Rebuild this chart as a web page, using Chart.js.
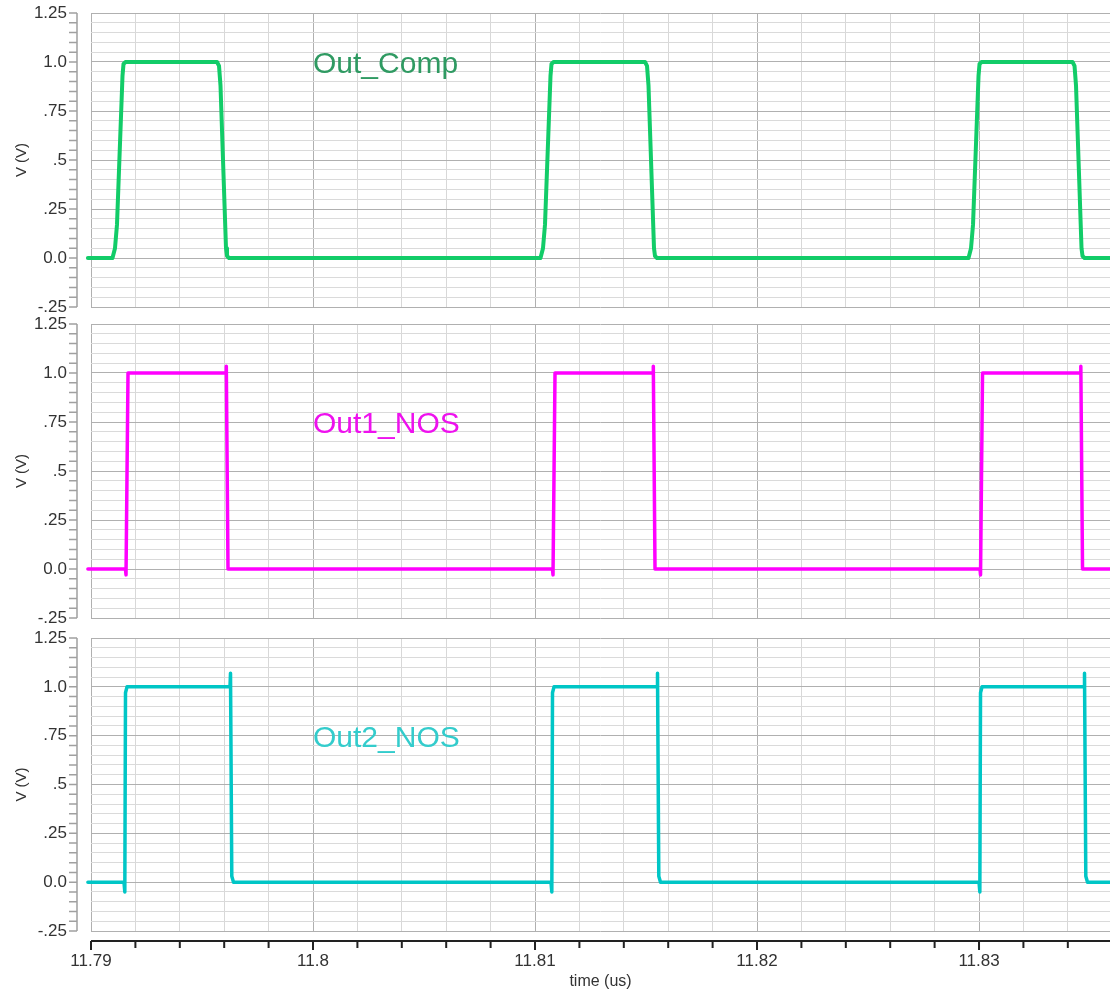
<!DOCTYPE html>
<html>
<head>
<meta charset="utf-8">
<script src="https://cdn.jsdelivr.net/npm/chart.js@4.4.0/dist/chart.umd.min.js"></script>
<style>
  body { margin: 0; background: #fff; }
  #wrap { position: relative; width: 1110px; height: 991px; overflow: hidden; }
  canvas { position: absolute; left: 0; }
</style>
</head>
<body>
<div id="wrap">
  <canvas id="p1" width="1110" height="320" style="top:0px"></canvas>
  <canvas id="p2" width="1110" height="320" style="top:312px"></canvas>
  <canvas id="p3" width="1110" height="366" style="top:625px"></canvas>
</div>
<script>
// axis labels
const xTickVals = [11.79, 11.8, 11.81, 11.82, 11.83];
const xTickText = ["11.79", "11.8", "11.81", "11.82", "11.83"];
const yTickVals = [-0.25, 0, 0.25, 0.5, 0.75, 1, 1.25];
const yTickText = ["-.25", "0.0", ".25", ".5", ".75", "1.0", "1.25"];

// Out_Comp trace (time in us, volts)
const compTime = [11.78986,
  11.790968, 11.791081, 11.791171, 11.791419, 11.791464, 11.791554,
  11.795676, 11.795766, 11.795833, 11.796081, 11.796126, 11.796216,
  11.810247, 11.810360, 11.810450, 11.810698, 11.810743, 11.810833,
  11.814955, 11.815045, 11.815112, 11.815360, 11.815405, 11.815495,
  11.829527, 11.829640, 11.829730, 11.829978, 11.830023, 11.830113,
  11.834212, 11.834302, 11.834369, 11.834617, 11.834662, 11.834752,
  11.8359];
const compVolt = [0,
  0, 0.05, 0.17, 0.93, 0.99, 1.0,
  1.0, 0.98, 0.88, 0.05, 0.01, 0,
  0, 0.05, 0.17, 0.93, 0.99, 1.0,
  1.0, 0.98, 0.88, 0.05, 0.01, 0,
  0, 0.05, 0.17, 0.93, 0.99, 1.0,
  1.0, 0.98, 0.88, 0.05, 0.01, 0,
  0];

// Out1_NOS trace
const out1Time = [11.78986,
  11.791554, 11.791577, 11.791667, 11.796081, 11.796095, 11.796171,
  11.810788, 11.810811, 11.810901, 11.815315, 11.815329, 11.815405,
  11.830045, 11.830068, 11.830158, 11.834572, 11.834586, 11.834662,
  11.8359];
const out1Volt = [0,
  0, -0.03, 1.0, 1.0, 1.035, 0,
  0, -0.03, 1.0, 1.0, 1.035, 0,
  0, -0.03, 1.0, 1.0, 1.035, 0,
  0];

// Out2_NOS trace
const out2Time = [11.78986,
  11.791486, 11.791523, 11.791554, 11.791622, 11.796261, 11.796284, 11.796342, 11.796419,
  11.810720, 11.810757, 11.810788, 11.810856, 11.815495, 11.815518, 11.815576, 11.815653,
  11.830000, 11.830037, 11.830068, 11.830136, 11.834729, 11.834752, 11.834810, 11.834887,
  11.8359];
const out2Volt = [0,
  0, -0.05, 0.97, 1.0, 1.0, 1.07, 0.03, 0,
  0, -0.05, 0.97, 1.0, 1.0, 1.07, 0.03, 0,
  0, -0.05, 0.97, 1.0, 1.0, 1.07, 0.03, 0,
  0];

const FONT = "'Liberation Sans', Arial, sans-serif";
const X_MIN = 11.79, X_MAX = 11.8359, X_STEP = 0.002;
const Y_MIN = -0.25, Y_MAX = 1.25, Y_STEP = 0.05;

function findTick(v, list) {
    return list.findIndex((t) => Math.abs(t - v) < 1e-7);
}
function isMajorX(v) {
    return Math.abs(v * 100 - Math.round(v * 100)) < 1e-6;
}
function isMajorY(v) {
    return Math.abs(v * 4 - Math.round(v * 4)) < 1e-6;
}
function stepTicks(min, max, step) {
    const ticks = [];
    for (let i = 0; min + i * step <= max + 1e-9; i++) {
        ticks.push({ value: Math.round((min + i * step) * 1e6) / 1e6 });
    }
    return ticks;
}

// y axis line drawn away from the plot, bottom time axis, trace name
const decoPlugin = {
    id: "deco",
    afterDraw(chart, args, opts) {
        const { ctx, chartArea: a, scales: { x, y } } = chart;
        ctx.save();
        const ax = a.left - 14;
        ctx.strokeStyle = "#a0a0a0";
        ctx.lineWidth = 1.5;
        ctx.beginPath();
        ctx.moveTo(ax, a.top);
        ctx.lineTo(ax, a.bottom);
        y.ticks.forEach((t) => {
            const py = y.getPixelForValue(t.value);
            ctx.moveTo(ax - 8, py);
            ctx.lineTo(ax, py);
        });
        ctx.stroke();

        if (opts.xAxis) {
            const ay = a.bottom + 10;
            ctx.strokeStyle = "#222";
            ctx.lineWidth = 2;
            ctx.beginPath();
            ctx.moveTo(a.left, ay);
            ctx.lineTo(a.right, ay);
            x.ticks.forEach((t) => {
                const px = x.getPixelForValue(t.value);
                ctx.moveTo(px, ay);
                ctx.lineTo(px, ay + (isMajorX(t.value) ? 9 : 7));
            });
            ctx.stroke();
        }

        ctx.font = "30px " + FONT;
        ctx.fillStyle = opts.color;
        ctx.textBaseline = "middle";
        ctx.textAlign = "left";
        ctx.fillText(opts.label, x.getPixelForValue(11.8), y.getPixelForValue(opts.level) + 3);
        ctx.restore();
    },
};

function makePanel(id, time, volt, lineColor, lineWidth, pad, deco) {
    const ctx = document.getElementById(id).getContext("2d");
    const points = time.map((t, i) => ({ x: t, y: volt[i] }));
    return new Chart(ctx, {
        type: "line",
        data: {
            datasets: [
                {
                    label: deco.label,
                    data: points,
                    borderColor: lineColor,
                    borderWidth: lineWidth,
                    pointRadius: 0,
                    tension: 0,
                    borderJoinStyle: "round",
                    borderCapStyle: "round",
                    clip: { left: 6, right: 0, top: 8, bottom: 8 },
                },
            ],
        },
        options: {
            responsive: false,
            animation: false,
            devicePixelRatio: 1,
            layout: { padding: { left: 0, right: 0, top: pad.top, bottom: pad.bottom } },
            plugins: {
                legend: { display: false },
                tooltip: { enabled: false },
                deco: deco,
            },
            scales: {
                x: {
                    type: "linear",
                    min: X_MIN,
                    max: X_MAX,
                    afterBuildTicks: (scale) => {
                        scale.ticks = stepTicks(X_MIN, X_MAX, X_STEP);
                    },
                    afterFit: (scale) => {
                        scale.height = deco.xAxis ? 60 : 0;
                        scale.paddingLeft = 0;
                        scale.paddingRight = 0;
                    },
                    border: { display: false },
                    grid: {
                        drawTicks: false,
                        color: (c) => (isMajorX(c.tick.value) ? "#b0b0b0" : "#d8d8d8"),
                        lineWidth: 1,
                    },
                    ticks: {
                        display: deco.xAxis,
                        autoSkip: false,
                        maxRotation: 0,
                        padding: 20,
                        color: "#333",
                        font: { family: FONT, size: 17 },
                        callback: (v) => {
                            const i = findTick(v, xTickVals);
                            return i >= 0 ? xTickText[i] : "";
                        },
                    },
                    title: {
                        display: deco.xAxis,
                        text: "time (us)",
                        color: "#333",
                        font: { family: FONT, size: 16 },
                        padding: { top: 0, bottom: 0 },
                    },
                },
                y: {
                    type: "linear",
                    min: Y_MIN,
                    max: Y_MAX,
                    afterBuildTicks: (scale) => {
                        scale.ticks = stepTicks(Y_MIN, Y_MAX, Y_STEP);
                    },
                    afterFit: (scale) => {
                        scale.width = 91;
                        scale.paddingTop = 0;
                        scale.paddingBottom = 0;
                    },
                    border: { display: false },
                    grid: {
                        drawTicks: false,
                        color: (c) => (isMajorY(c.tick.value) ? "#b0b0b0" : "#dadada"),
                        lineWidth: 1,
                    },
                    ticks: {
                        autoSkip: false,
                        padding: 24,
                        color: "#333",
                        font: { family: FONT, size: 17 },
                        callback: (v) => {
                            const i = findTick(v, yTickVals);
                            return i >= 0 ? yTickText[i] : "";
                        },
                    },
                    title: {
                        display: true,
                        text: "V (V)",
                        color: "#333",
                        font: { family: FONT, size: 15 },
                        padding: { top: 13, bottom: 0 },
                    },
                },
            },
        },
        plugins: [decoPlugin],
    });
}

makePanel("p1", compTime, compVolt, "#12cc68", 4, { top: 13, bottom: 13 },
    { label: "Out_Comp", color: "#2f9a62", level: 1.0, xAxis: false });
makePanel("p2", out1Time, out1Volt, "#ff00ff", 3.5, { top: 12, bottom: 14 },
    { label: "Out1_NOS", color: "#ee11ee", level: 0.75, xAxis: false });
makePanel("p3", out2Time, out2Volt, "#00c6c6", 3.5, { top: 13, bottom: 0 },
    { label: "Out2_NOS", color: "#33cccc", level: 0.75, xAxis: true });
</script>
</body>
</html>
